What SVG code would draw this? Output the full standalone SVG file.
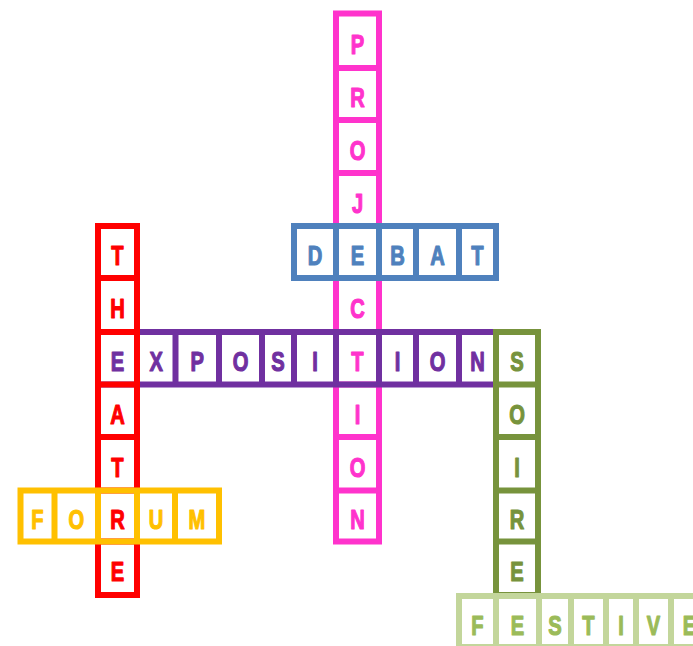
<svg xmlns="http://www.w3.org/2000/svg" width="693" height="646" viewBox="0 0 693 646">
<style>
.w{fill:none;stroke-width:6;stroke-linejoin:miter}
.pk{stroke:#FF33CC}.bl{stroke:#4F81BD}.pu{stroke:#7030A0}.rd{stroke:#FF0000}.or{stroke:#FFC000}.gn{stroke:#77933C}.lg{stroke:#C3D69B}
text{font-family:"Liberation Sans",Arial,sans-serif;font-weight:bold;font-size:28px;text-anchor:middle;stroke-width:1.2;stroke-linejoin:round}
.tpk{fill:#FF33CC;stroke:#FF33CC}.tbl{fill:#4F81BD;stroke:#4F81BD}.tpu{fill:#7030A0;stroke:#7030A0}.trd{fill:#FF0000;stroke:#FF0000}.tor{fill:#FFC000;stroke:#FFC000}.tgn{fill:#77933C;stroke:#77933C}.tlg{fill:#9BBB59;stroke:#9BBB59}
</style>
<rect width="693" height="646" fill="#fff"/>
<g id="projection">
<rect class="w pk" x="336" y="13.5" width="43" height="528"/>
<path class="w pk" d="M336 68H379M336 120H379M336 173H379M336 226H379M336 278H379M336 332H379M336 384.5H379M336 437H379M336 490.5H379"/>
<g class="tpk">
<text transform="translate(357.5 54) scale(.72 1)">P</text>
<text transform="translate(357.5 107) scale(.72 1)">R</text>
<text transform="translate(357.5 160) scale(.72 1)">O</text>
<text transform="translate(357.5 213) scale(.72 1)">J</text>
<text transform="translate(357.5 318) scale(.72 1)">C</text>
<text transform="translate(357.5 371) scale(.72 1)">T</text>
<text transform="translate(357.5 424) scale(.72 1)">I</text>
<text transform="translate(357.5 477) scale(.72 1)">O</text>
<text transform="translate(357.5 529) scale(.72 1)">N</text>
</g>
</g>
<g id="debat">
<rect class="w bl" x="294" y="226" width="202" height="52"/>
<path class="w bl" d="M336 226V278M379 226V278M416 226V278M459 226V278"/>
<g class="tbl">
<text transform="translate(315 265) scale(.72 1)">D</text>
<text transform="translate(357.5 265) scale(.72 1)">E</text>
<text transform="translate(397.5 265) scale(.72 1)">B</text>
<text transform="translate(437.5 265) scale(.72 1)">A</text>
<text transform="translate(477.5 265) scale(.72 1)">T</text>
</g>
</g>
<g id="exposition">
<rect class="w pu" x="98" y="332" width="398" height="52.5"/>
<path class="w pu" d="M137 332V384.5M175.5 332V384.5M219 332V384.5M262 332V384.5M294 332V384.5M336 332V384.5M379 332V384.5M416 332V384.5M459 332V384.5"/>
<g class="tpu">
<text transform="translate(117.5 371) scale(.72 1)">E</text>
<text transform="translate(156.25 371) scale(.72 1)">X</text>
<text transform="translate(197.25 371) scale(.72 1)">P</text>
<text transform="translate(240.5 371) scale(.72 1)">O</text>
<text transform="translate(278 371) scale(.72 1)">S</text>
<text transform="translate(315 371) scale(.72 1)">I</text>
<text transform="translate(397.5 371) scale(.72 1)">I</text>
<text transform="translate(437.5 371) scale(.72 1)">O</text>
<text transform="translate(477.5 371) scale(.72 1)">N</text>
</g>
</g>
<g id="theatre">
<rect class="w rd" x="98" y="226" width="39" height="369"/>
<path class="w rd" d="M98 278H137M98 332H137M98 384.5H137M98 437H137M98 490.5H137M98 541.5H137"/>
<g class="trd">
<text transform="translate(117.5 265) scale(.72 1)">T</text>
<text transform="translate(117.5 318) scale(.72 1)">H</text>
<text transform="translate(117.5 424) scale(.72 1)">A</text>
<text transform="translate(117.5 477) scale(.72 1)">T</text>
<text transform="translate(117.5 529) scale(.72 1)">R</text>
<text transform="translate(117.5 581) scale(.72 1)">E</text>
</g>
</g>
<g id="forum">
<rect class="w or" x="20.5" y="490.5" width="198.5" height="51"/>
<path class="w or" d="M54.5 490.5V541.5M98 490.5V541.5M137 490.5V541.5M175 490.5V541.5"/>
<g class="tor">
<text transform="translate(37.5 529) scale(.72 1)">F</text>
<text transform="translate(76.25 529) scale(.72 1)">O</text>
<text transform="translate(156 529) scale(.72 1)">U</text>
<text transform="translate(197 529) scale(.72 1)">M</text>
</g>
</g>
<g id="soiree">
<rect class="w gn" x="496" y="332" width="42" height="263"/>
<path class="w gn" d="M496 384.5H538M496 437H538M496 490.5H538M496 541.5H538"/>
<g class="tgn">
<text transform="translate(517 371) scale(.72 1)">S</text>
<text transform="translate(517 424) scale(.72 1)">O</text>
<text transform="translate(517 477) scale(.72 1)">I</text>
<text transform="translate(517 529) scale(.72 1)">R</text>
<text transform="translate(517 581) scale(.72 1)">E</text>
</g>
</g>
<g id="festive">
<rect class="w lg" x="459" y="596" width="249" height="51"/>
<path class="w lg" d="M496 596V647M539 596V647M571 596V647M606 596V647M636 596V647M671 596V647"/>
<g class="tlg">
<text transform="translate(477.5 635) scale(.72 1)">F</text>
<text transform="translate(517.5 635) scale(.72 1)">E</text>
<text transform="translate(555 635) scale(.72 1)">S</text>
<text transform="translate(588.5 635) scale(.72 1)">T</text>
<text transform="translate(621 635) scale(.72 1)">I</text>
<text transform="translate(653.5 635) scale(.72 1)">V</text>
<text transform="translate(689.5 635) scale(.72 1)">E</text>
</g>
</g>
<g id="connectors"/>
</svg>
